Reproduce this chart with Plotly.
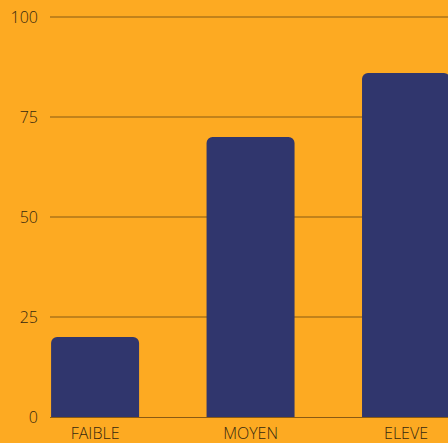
import plotly.graph_objects as go

categories = ["FAIBLE", "MOYEN", "ELEVE"]
values = [20, 70, 86]
y_ticks = [0, 25, 50, 75, 100]

BG = "#FDAA22"
BAR = "#30366D"
GRID = "#C2821A"
TXT = "#35280F"

fig = go.Figure(go.Bar(
    x=list(range(len(categories))),
    y=values,
    width=0.566,
    marker=dict(color=BAR, line=dict(width=0)),
))

fig.update_layout(
    width=448, height=443,
    margin=dict(l=50, r=0, t=15, b=26),
    paper_bgcolor=BG, plot_bgcolor=BG,
    barcornerradius=6,
    showlegend=False,
    font=dict(family="Open Sans", size=16, color=TXT, weight=300),
)
fig.update_xaxes(
    range=[-0.29, 2.27],
    tickvals=list(range(len(categories))),
    ticktext=categories,
    showgrid=False, zeroline=False,
    showline=True, linecolor="#8A5A12", linewidth=1,
    ticks="", ticklabelstandoff=2,
)
fig.update_yaxes(
    range=[0, 100.5],
    tickvals=y_ticks,
    showgrid=True, gridcolor=GRID, gridwidth=1.5,
    zeroline=False, showline=False,
    ticks="", ticklabelstandoff=11,
)
fig.write_html("out.html")
